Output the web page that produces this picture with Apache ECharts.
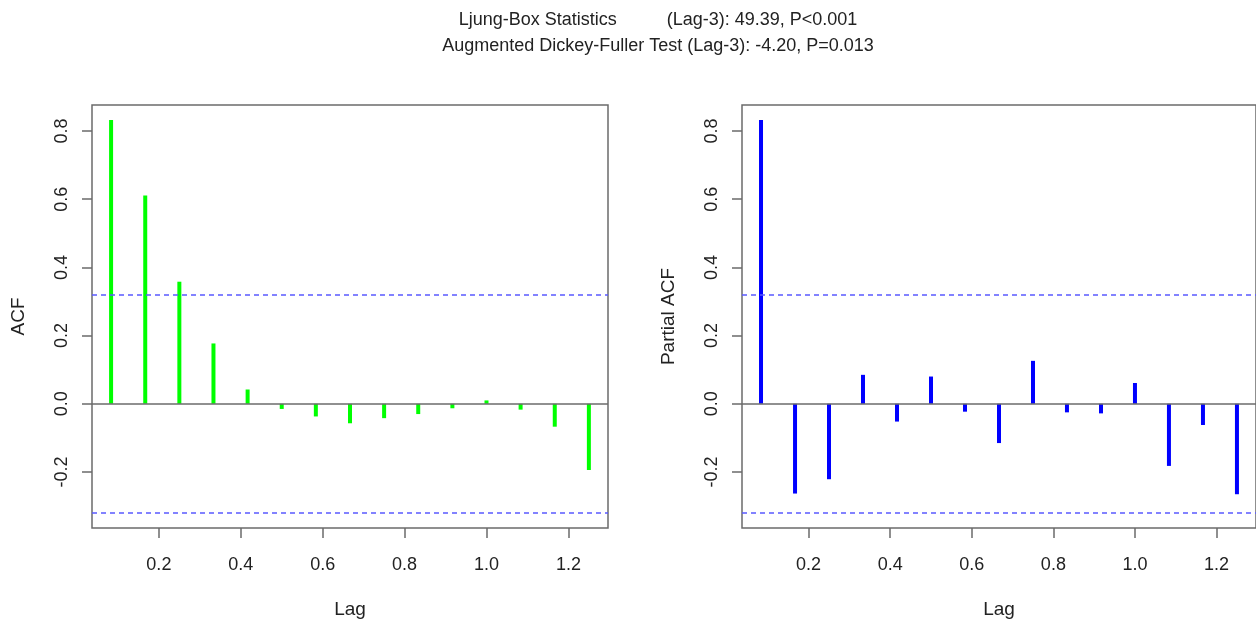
<!DOCTYPE html>
<html lang="en">
<head>
    <meta charset="UTF-8">
    <title>ACF / PACF</title>
    <script src="https://cdn.jsdelivr.net/npm/echarts@6/dist/echarts.min.js"></script>
    <style>
        html, body { margin: 0; padding: 0; background: #fff; }
    </style>
</head>
<body>
<div id="main" style="width: 1256px;height:624px;"></div>
<script type="text/javascript">

    // lag positions (in years, monthly data -> k/12)
    var lags = [0.0833, 0.1667, 0.25, 0.3333, 0.4167, 0.5, 0.5833, 0.6667, 0.75, 0.8333, 0.9167, 1.0, 1.0833, 1.1667, 1.25];
    var acfValues = [0.832, 0.611, 0.358, 0.177, 0.042, -0.015, -0.037, -0.057, -0.042, -0.030, -0.013, 0.010, -0.017, -0.067, -0.194];
    var pacfValues = [0.832, -0.263, -0.221, 0.085, -0.052, 0.080, -0.023, -0.115, 0.126, -0.025, -0.028, 0.061, -0.182, -0.062, -0.265];
    var ciBound = 0.318;
    var xTicks = [0.2, 0.4, 0.6, 0.8, 1.0, 1.2];
    var yTicks = [-0.2, 0.0, 0.2, 0.4, 0.6, 0.8];
    var titleLines = [
        'Ljung-Box Statistics          (Lag-3): 49.39, P<0.001',
        'Augmented Dickey-Fuller Test (Lag-3): -4.20, P=0.013'
    ];

    var font = 'Liberation Sans, Arial, sans-serif';
    var frameColor = '#6b6b6b';

    function pairs(vals) {
        return lags.map(function (x, i) { return [x, vals[i]]; });
    }

    function xAxisFor(idx) {
        return {
            type: 'value', gridIndex: idx,
            min: 0.0367, max: 1.2967,
            name: 'Lag', nameLocation: 'middle', nameGap: 72,
            nameTextStyle: { fontFamily: font, fontSize: 19, color: '#222' },
            splitLine: { show: false },
            axisLine: { show: false, onZero: false },
            axisTick: { show: true, length: 10, customValues: xTicks,
                lineStyle: { color: frameColor, width: 1.5 } },
            axisLabel: { customValues: xTicks, margin: 28, fontFamily: font, fontSize: 18, color: '#222',
                formatter: function (v) { return v.toFixed(1); } }
        };
    }

    function yAxisFor(idx, name) {
        return {
            type: 'value', gridIndex: idx,
            min: -0.364, max: 0.876,
            name: name, nameLocation: 'middle', nameGap: 64, nameRotate: 90,
            nameTextStyle: { fontFamily: font, fontSize: 19, color: '#222' },
            splitLine: { show: false },
            axisLine: { show: false, onZero: false },
            axisTick: { show: true, length: 10, customValues: yTicks,
                lineStyle: { color: frameColor, width: 1.5 } },
            axisLabel: { customValues: yTicks, rotate: 90, margin: 21, fontFamily: font, fontSize: 18, color: '#222',
                formatter: function (v) { return v.toFixed(1); } }
        };
    }

    function refLines() {
        return {
            silent: true,
            symbol: 'none',
            label: { show: false },
            data: [
                { yAxis: 0, lineStyle: { color: frameColor, width: 1.5, type: 'solid' } },
                { yAxis: ciBound, lineStyle: { color: '#5a5aff', width: 1.5, type: [5, 4] } },
                { yAxis: -ciBound, lineStyle: { color: '#5a5aff', width: 1.5, type: [5, 4] } }
            ]
        };
    }

    var myChart = echarts.init(document.getElementById('main'));

    var option = {
        animation: false,
        backgroundColor: '#fff',
        title: {
            text: titleLines.join('\n'),
            left: 653, top: 2, textAlign: 'center',
            textStyle: { fontFamily: font, fontSize: 18, fontWeight: 'normal', color: '#222', lineHeight: 26 }
        },
        grid: [
            { left: 92, top: 105, width: 516, height: 423, show: true, borderColor: frameColor, borderWidth: 1.5, backgroundColor: 'transparent' },
            { left: 742, top: 105, width: 516, height: 423, show: true, borderColor: frameColor, borderWidth: 1.5, backgroundColor: 'transparent' }
        ],
        xAxis: [xAxisFor(0), xAxisFor(1)],
        yAxis: [yAxisFor(0, 'ACF'), yAxisFor(1, 'Partial ACF')],
        series: [
            {
                name: 'ACF', type: 'bar', xAxisIndex: 0, yAxisIndex: 0,
                barWidth: 4, itemStyle: { color: '#00ff00' },
                data: pairs(acfValues),
                markLine: refLines()
            },
            {
                name: 'PACF', type: 'bar', xAxisIndex: 1, yAxisIndex: 1,
                barWidth: 4, itemStyle: { color: '#0000ff' },
                data: pairs(pacfValues),
                markLine: refLines()
            }
        ]
    };

    myChart.setOption(option);

</script>
</body>
</html>
